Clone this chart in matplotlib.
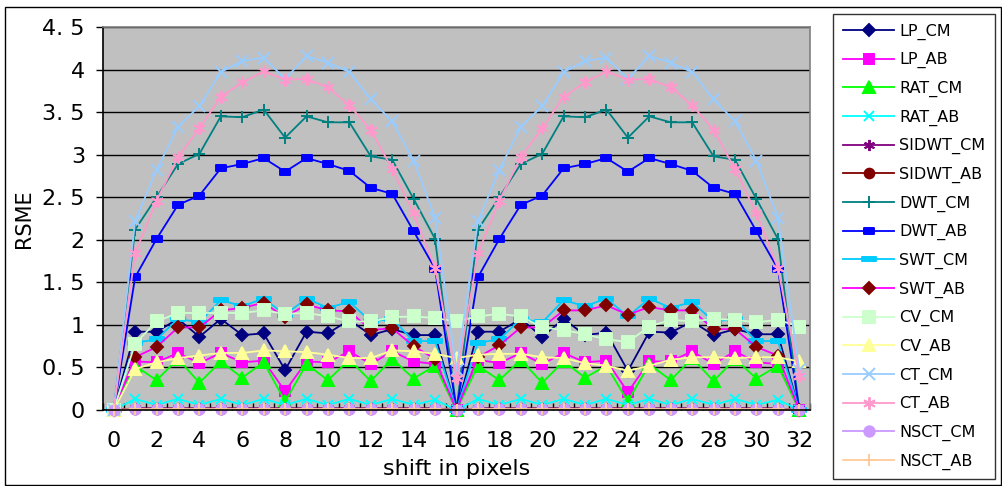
import matplotlib
matplotlib.use("Agg")
import matplotlib.pyplot as plt
from matplotlib.path import Path
from matplotlib.patches import Rectangle
from matplotlib.ticker import FixedLocator

plt.rcParams['font.family'] = ['DejaVu Sans']

shift = list(range(33))

LP_CM = [0, 0.92, 0.92, 1.07, 0.86, 1.07, 0.88, 0.90, 0.47, 0.92, 0.90, 1.06, 0.88, 0.95, 0.88, 0.88, 0,
         0.92, 0.92, 1.07, 0.86, 1.07, 0.88, 0.91, 0.46, 0.92, 0.91, 1.04, 0.88, 0.95, 0.89, 0.89, 0]
LP_AB = [0, 0.57, 0.56, 0.67, 0.55, 0.67, 0.56, 0.58, 0.22, 0.57, 0.56, 0.69, 0.54, 0.69, 0.57, 0.54, 0,
         0.59, 0.55, 0.67, 0.54, 0.67, 0.56, 0.58, 0.21, 0.57, 0.57, 0.69, 0.54, 0.69, 0.56, 0.54, 0]
RAT_CM = [0, 0.52, 0.35, 0.60, 0.32, 0.57, 0.38, 0.56, 0.10, 0.54, 0.35, 0.59, 0.34, 0.60, 0.37, 0.52, 0,
          0.52, 0.35, 0.59, 0.32, 0.57, 0.38, 0.52, 0.10, 0.54, 0.35, 0.61, 0.34, 0.60, 0.37, 0.52, 0]
RAT_AB = [0, 0.13, 0.06, 0.13, 0.06, 0.13, 0.06, 0.13, 0.06, 0.13, 0.06, 0.13, 0.06, 0.13, 0.06, 0.12, 0,
          0.13, 0.06, 0.13, 0.06, 0.13, 0.06, 0.13, 0.06, 0.13, 0.06, 0.13, 0.06, 0.13, 0.06, 0.12, 0]
SIDWT_CM = [0, 0.02, 0.02, 0.02, 0.02, 0.02, 0.02, 0.02, 0.02, 0.02, 0.02, 0.02, 0.02, 0.02, 0.02, 0.02, 0,
            0.02, 0.02, 0.02, 0.02, 0.02, 0.02, 0.02, 0.02, 0.02, 0.02, 0.02, 0.02, 0.02, 0.02, 0.02, 0]
SIDWT_AB = [0, 0.015, 0.015, 0.015, 0.015, 0.015, 0.015, 0.015, 0.015, 0.015, 0.015, 0.015, 0.015, 0.015, 0.015, 0.015, 0,
            0.015, 0.015, 0.015, 0.015, 0.015, 0.015, 0.015, 0.015, 0.015, 0.015, 0.015, 0.015, 0.015, 0.015, 0.015, 0]
DWT_CM = [0, 2.12, 2.50, 2.89, 3.01, 3.45, 3.44, 3.53, 3.20, 3.45, 3.38, 3.38, 2.98, 2.94, 2.48, 2.01, 0,
          2.12, 2.50, 2.89, 3.01, 3.45, 3.44, 3.53, 3.20, 3.45, 3.38, 3.38, 2.98, 2.94, 2.48, 2.01, 0]
DWT_AB = [0, 1.56, 2.01, 2.41, 2.52, 2.84, 2.89, 2.96, 2.80, 2.96, 2.89, 2.81, 2.61, 2.54, 2.10, 1.66, 0,
          1.56, 2.01, 2.41, 2.52, 2.84, 2.89, 2.96, 2.80, 2.96, 2.89, 2.81, 2.61, 2.54, 2.10, 1.66, 0]
SWT_CM = [0, 0.79, 0.83, 1.07, 1.03, 1.29, 1.22, 1.31, 1.12, 1.31, 1.20, 1.27, 1.04, 1.07, 0.81, 0.81, 0,
          0.79, 0.83, 1.07, 1.03, 1.29, 1.22, 1.31, 1.10, 1.31, 1.20, 1.27, 1.04, 1.07, 0.81, 0.81, 0]
SWT_AB = [0, 0.62, 0.74, 0.97, 0.97, 1.17, 1.20, 1.26, 1.09, 1.24, 1.17, 1.16, 0.94, 0.96, 0.75, 0.60, 0,
          0.62, 0.76, 0.97, 0.97, 1.17, 1.17, 1.23, 1.12, 1.21, 1.17, 1.17, 0.95, 0.95, 0.74, 0.64, 0]
CV_CM = [0, 0.78, 1.04, 1.14, 1.14, 1.14, 1.14, 1.17, 1.13, 1.14, 1.10, 1.04, 1.04, 1.09, 1.10, 1.08, 1.04,
         1.10, 1.13, 1.10, 0.97, 0.94, 0.89, 0.83, 0.80, 0.98, 1.06, 1.04, 1.07, 1.06, 1.03, 1.06, 0.98]
CV_AB = [0, 0.48, 0.56, 0.61, 0.64, 0.67, 0.67, 0.70, 0.69, 0.68, 0.65, 0.61, 0.61, 0.70, 0.69, 0.66, 0.61,
         0.65, 0.66, 0.66, 0.62, 0.61, 0.55, 0.52, 0.46, 0.52, 0.59, 0.62, 0.62, 0.61, 0.62, 0.62, 0.57]
CT_CM = [0, 2.22, 2.82, 3.33, 3.57, 3.97, 4.10, 4.14, 3.89, 4.16, 4.08, 3.97, 3.65, 3.39, 2.93, 2.26, 0.47,
         2.22, 2.82, 3.33, 3.57, 3.97, 4.10, 4.14, 3.89, 4.16, 4.08, 3.97, 3.65, 3.39, 2.93, 2.26, 0.47]
CT_AB = [0, 1.84, 2.46, 2.97, 3.31, 3.68, 3.85, 3.98, 3.88, 3.89, 3.79, 3.58, 3.29, 2.83, 2.31, 1.67, 0.38,
         1.84, 2.46, 2.97, 3.31, 3.68, 3.85, 3.98, 3.88, 3.89, 3.79, 3.58, 3.29, 2.83, 2.31, 1.67, 0.40]
NSCT_CM = [0, 0.01, 0.01, 0.01, 0.01, 0.01, 0.01, 0.01, 0.01, 0.01, 0.01, 0.01, 0.01, 0.01, 0.01, 0.01, 0,
           0.01, 0.01, 0.01, 0.01, 0.01, 0.01, 0.01, 0.01, 0.01, 0.01, 0.01, 0.01, 0.01, 0.01, 0.01, 0]
NSCT_AB = [0, 0.01, 0.01, 0.01, 0.01, 0.01, 0.01, 0.01, 0.01, 0.01, 0.01, 0.01, 0.01, 0.01, 0.01, 0.01, 0,
           0.01, 0.01, 0.01, 0.01, 0.01, 0.01, 0.01, 0.01, 0.01, 0.01, 0.01, 0.01, 0.01, 0.01, 0.01, 0]

y_ticks = [0, 0.5, 1, 1.5, 2, 2.5, 3, 3.5, 4, 4.5]
y_tick_labels = ["0", "0. 5", "1", "1. 5", "2", "2. 5", "3", "3. 5", "4", "4. 5"]
x_ticks = list(range(0, 33, 2))

small_bar = Path([(-1, -0.6), (1, -0.6), (1, 0.6), (-1, 0.6), (-1, -0.6)],
                 [Path.MOVETO, Path.LINETO, Path.LINETO, Path.LINETO, Path.CLOSEPOLY])
wide_bar = Path([(-1, -0.35), (1, -0.35), (1, 0.35), (-1, 0.35), (-1, -0.35)],
                [Path.MOVETO, Path.LINETO, Path.LINETO, Path.LINETO, Path.CLOSEPOLY])

series = [
    ("LP_CM", LP_CM, "#000080", "#000080", "D", 6.5),
    ("LP_AB", LP_AB, "#FF00FF", "#FF00FF", "s", 7.5),
    ("RAT_CM", RAT_CM, "#00FF00", "#00FF00", "^", 8),
    ("RAT_AB", RAT_AB, "#00FFFF", "#00FFFF", "x", 7.5),
    ("SIDWT_CM", SIDWT_CM, "#800080", "#800080", (6, 2, 0), 8),
    ("SIDWT_AB", SIDWT_AB, "#800000", "#800000", "o", 7),
    ("DWT_CM", DWT_CM, "#008080", "#008080", "+", 9),
    ("DWT_AB", DWT_AB, "#0000FF", "#0000FF", small_bar, 6.5),
    ("SWT_CM", SWT_CM, "#00CCFF", "#00CCFF", wide_bar, 10),
    ("SWT_AB", SWT_AB, "#FF00FF", "#800000", "D", 6.5),
    ("CV_CM", CV_CM, "#CCFFCC", "#CCFFCC", "s", 8),
    ("CV_AB", CV_AB, "#FFFF99", "#FFFF99", "^", 8.5),
    ("CT_CM", CT_CM, "#99CCFF", "#99CCFF", "x", 8),
    ("CT_AB", CT_AB, "#FF99CC", "#FF99CC", (6, 2, 0), 9),
    ("NSCT_CM", NSCT_CM, "#CC99FF", "#CC99FF", "o", 7.5),
    ("NSCT_AB", NSCT_AB, "#FFCC99", "#FFCC99", "+", 9),
]

fig = plt.figure(figsize=(10.02, 4.86), dpi=100)
ax = fig.add_axes([103 / 1002, 1 - 410 / 486, 707 / 1002, 383 / 486])
ax.set_facecolor("#C0C0C0")

handles = []
for name, vals, lc, mc, mk, ms in series:
    h, = ax.plot(shift, vals, color=lc, lw=1.3, marker=mk, markersize=ms,
                 markerfacecolor=mc, markeredgecolor=mc, markeredgewidth=1.4,
                 label=name, clip_on=False)
    handles.append(h)

ax.set_xlim(-0.5, 32.5)
ax.set_ylim(0, 4.5)
ax.yaxis.set_major_locator(FixedLocator(y_ticks))
ax.set_yticklabels(y_tick_labels)
ax.xaxis.set_major_locator(FixedLocator(x_ticks))
ax.xaxis.set_minor_locator(FixedLocator([v + 0.5 for v in range(-1, 33)]))
ax.grid(axis="y", color="black", lw=1.0)
ax.set_axisbelow(True)

ax.tick_params(axis="y", which="major", direction="out", length=5, width=1,
               labelsize=16, pad=8)
ax.tick_params(axis="x", which="major", length=0, labelsize=16, pad=15)
ax.tick_params(axis="x", which="minor", direction="in", length=5, width=1)

for s in ["left", "bottom"]:
    ax.spines[s].set_color("black")
    ax.spines[s].set_linewidth(1.2)
for s in ["top", "right"]:
    ax.spines[s].set_color("#808080")
    ax.spines[s].set_linewidth(1.2)

ax.set_ylabel("RSME", fontsize=15, labelpad=6)
ax.set_xlabel("shift in pixels", fontsize=16, labelpad=6)

leg = fig.legend(handles=handles, loc="upper left",
                 bbox_to_anchor=(833 / 1002, 1 - 14 / 486),
                 frameon=True, fancybox=False, fontsize=11.5,
                 labelspacing=0.78, handlelength=3.25, handletextpad=0.3,
                 borderpad=0.6, borderaxespad=0)
leg.get_frame().set_edgecolor("black")
leg.get_frame().set_linewidth(1.0)

fig.patches.append(Rectangle((5 / 1002, 1 / 486), 996 / 1002, 478 / 486,
                             transform=fig.transFigure, fill=False,
                             edgecolor="black", lw=1.0))

fig.savefig("out.png", dpi=100)
